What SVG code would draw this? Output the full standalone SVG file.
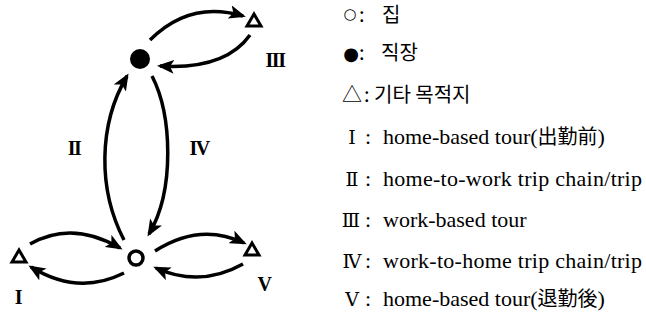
<svg xmlns="http://www.w3.org/2000/svg" width="646" height="320" viewBox="0 0 646 320">
<style>
.arc{fill:none;stroke:#000;stroke-width:3.5;stroke-linecap:butt}
.tri{fill:#fff;stroke:#000;stroke-width:3;stroke-linejoin:miter}
.lbl{font-family:"Liberation Serif","DejaVu Serif",serif;font-weight:bold;font-size:20px;letter-spacing:-1.5px;fill:#000;text-anchor:middle}
.lg{font-family:"Liberation Serif","Noto Sans CJK KR",serif;font-size:22px;fill:#000}
.kr{font-family:"Noto Sans CJK KR",sans-serif;font-size:20px;fill:#000}
.sym{font-family:"DejaVu Sans",sans-serif;fill:#000;text-anchor:middle}
.rn{font-family:"DejaVu Serif","Noto Sans CJK KR",serif;font-size:19px;fill:#000}
</style>
<defs>
<marker id="ah" markerUnits="userSpaceOnUse" markerWidth="18" markerHeight="14" viewBox="0 0 18 14" refX="14" refY="7" orient="auto">
<path d="M0,0 L17,7 L0,14 L4,7 z" fill="#000"/>
</marker>
</defs>
<g id="connectors">
<path class="arc" d="M150,40 Q190,0 243,16" marker-end="url(#ah)"/>
<path class="arc" d="M250,35 Q225,70 160,66" marker-end="url(#ah)"/>
<path class="arc" d="M124,240 C98,190 98,125 127,76" marker-end="url(#ah)"/>
<path class="arc" d="M152,76 C172,115 175,190 149,234" marker-end="url(#ah)"/>
<path class="arc" d="M30,244 Q72,220 120,248" marker-end="url(#ah)"/>
<path class="arc" d="M124,273 Q78,296 31,267" marker-end="url(#ah)"/>
<path class="arc" d="M155,251 Q200,222 244,243" marker-end="url(#ah)"/>
<path class="arc" d="M243,264 Q200,288 156,268" marker-end="url(#ah)"/>
</g>
<g id="work"><circle cx="140" cy="59" r="10" fill="#000"/></g>
<g id="home"><circle cx="136" cy="258" r="7" fill="#fff" stroke="#000" stroke-width="3.5"/></g>
<g id="dest3"><polygon class="tri" points="254,14 247,26 261,26"/></g>
<g id="dest1"><polygon class="tri" points="19,250 12,262 26,262"/></g>
<g id="dest5"><polygon class="tri" points="252,243 245,255 259,255"/></g>
<g id="labels">
<text class="lbl" x="275" y="67">III</text>
<text class="lbl" x="74" y="155">II</text>
<text class="lbl" x="199" y="155">IV</text>
<text class="lbl" x="18" y="304">I</text>
<text class="lbl" x="264" y="291">V</text>
</g>
<g id="legend">
<text class="sym" x="350" y="19" font-size="15px">○</text><text class="kr" x="359" y="22" font-size="17.5px">:</text><text class="kr" x="382" y="22" font-size="17.5px">집</text>
<text class="sym" x="351" y="60" font-size="18px">●</text><text class="kr" x="359" y="60">:</text><text class="kr" x="381" y="60">직장</text>
<text class="kr" x="342" y="102">△<tspan x="364">:</tspan><tspan x="374">기타 목적지</tspan></text>
<text class="lg" y="144"><tspan class="rn" x="352" text-anchor="middle">Ⅰ</tspan><tspan x="365">:</tspan><tspan x="383">home-based tour(</tspan><tspan class="kr" font-size="21px">出勤前</tspan><tspan>)</tspan></text>
<text class="lg" y="186"><tspan class="rn" x="352" text-anchor="middle">Ⅱ</tspan><tspan x="365">:</tspan><tspan x="383" textLength="259" lengthAdjust="spacing">home-to-work trip chain/trip</tspan></text>
<text class="lg" y="227"><tspan class="rn" x="351" text-anchor="middle">Ⅲ</tspan><tspan x="365">:</tspan><tspan x="383">work-based tour</tspan></text>
<text class="lg" y="268"><tspan class="rn" x="352" text-anchor="middle">Ⅳ</tspan><tspan x="365">:</tspan><tspan x="383" textLength="259" lengthAdjust="spacing">work-to-home trip chain/trip</tspan></text>
<text class="lg" y="306"><tspan class="rn" x="352" text-anchor="middle">Ⅴ</tspan><tspan x="365">:</tspan><tspan x="383">home-based tour(</tspan><tspan class="kr" font-size="21px">退勤後</tspan><tspan>)</tspan></text>
</g>
</svg>
